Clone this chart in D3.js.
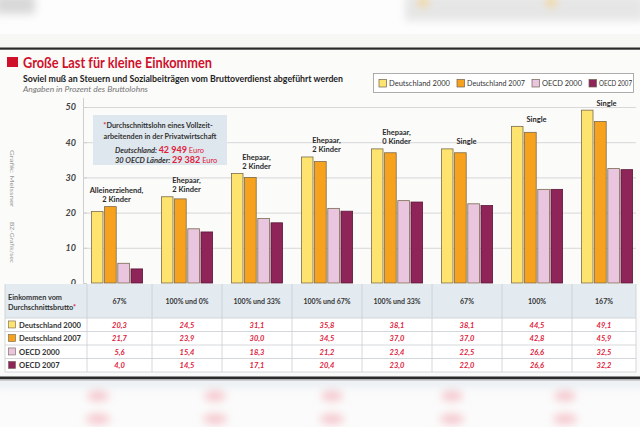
<!DOCTYPE html>
<html><head><meta charset="utf-8">
<script src="https://cdn.jsdelivr.net/npm/d3@7"></script>
<style>
html,body{margin:0;padding:0;background:#fbfbfa;}
svg{display:block;}
text{font-family:Lato,"Open Sans",sans-serif;}
</style></head>
<body>
<svg id="c" width="640" height="427"></svg>
<script>
// ---------- data ----------
const categories = ["67%","100% und 0%","100% und 33%","100% und 67%","100% und 33%","67%","100%","167%"];
const groupLabels = [["Alleinerziehend,","2 Kinder"],["Ehepaar,","2 Kinder"],["Ehepaar,","2 Kinder"],["Ehepaar,","2 Kinder"],["Ehepaar,","0 Kinder"],["Single"],["Single"],["Single"]];
const seriesNames = ["Deutschland 2000","Deutschland 2007","OECD 2000","OECD 2007"];
const deutschland2000 = [20.3,24.5,31.1,35.8,38.1,38.1,44.5,49.1];
const deutschland2007 = [21.7,23.9,30.0,34.5,37.0,37.0,42.8,45.9];
const oecd2000 = [5.6,15.4,18.3,21.2,23.4,22.5,26.6,32.5];
const oecd2007 = [4.0,14.5,17.1,20.4,23.0,22.0,26.6,32.2];
const yTicks = [0,10,20,30,40,50];
const seriesColors = ["#fee36e","#f7a21e","#e9c5df","#8e2458"];
const seriesValues = [deutschland2000,deutschland2007,oecd2000,oecd2007];

const svg = d3.select("#c");
const loc = d3.formatLocale({decimal:",",thousands:" ",grouping:[3],currency:["","€"]});
const fmt = loc.format(".1f");

// defs
const defs = svg.append("defs");
defs.append("filter").attr("id","blur").attr("x","-50%").attr("y","-50%").attr("width","200%").attr("height","200%")
  .append("feGaussianBlur").attr("stdDeviation",4);

// ---------- blurred top/bottom strips ----------
svg.append("rect").attr("x",0).attr("y",0).attr("width",640).attr("height",48).attr("fill","#fdfdfd");
const topBlur = svg.append("g").attr("filter","url(#blur)");
topBlur.append("rect").attr("x",-5).attr("y",-5).attr("width",40).attr("height",19).attr("fill","#d8d8d8");
topBlur.append("rect").attr("x",405).attr("y",-5).attr("width",240).attr("height",26).attr("fill","#e6e6e6");
topBlur.append("circle").attr("cx",423).attr("cy",2).attr("r",5).attr("fill","#f3d27a");
topBlur.append("circle").attr("cx",551).attr("cy",2).attr("r",5).attr("fill","#f3d27a");
svg.append("rect").attr("x",0).attr("y",34).attr("width",640).attr("height",14).attr("fill","#f4f4f2").attr("opacity",0.7);

svg.append("rect").attr("x",0).attr("y",379).attr("width",640).attr("height",48).attr("fill","#fbfbfb");
const botBlur = svg.append("g").attr("filter","url(#blur)");
botBlur.append("rect").attr("x",-5).attr("y",379).attr("width",650).attr("height",8).attr("fill","#e7edf2");
[98,215,332,452,565].forEach(cx=>{
  botBlur.append("ellipse").attr("cx",cx).attr("cy",396).attr("rx",11).attr("ry",5).attr("fill","#f5c4ca");
  botBlur.append("ellipse").attr("cx",cx).attr("cy",419).attr("rx",12).attr("ry",5).attr("fill","#f5c4ca");
});

// frame lines
svg.append("rect").attr("x",0).attr("y",47.5).attr("width",640).attr("height",2.2).attr("fill","#2a2a2a");
svg.append("rect").attr("x",0).attr("y",376.5).attr("width",640).attr("height",2.5).attr("fill","#2a2a2a");
svg.append("rect").attr("x",0).attr("y",379.5).attr("width",640).attr("height",0.8).attr("fill","#777");

// ---------- title ----------
svg.append("rect").attr("x",7).attr("y",57).attr("width",11).attr("height",10).attr("fill","#d0112b");
svg.append("text").attr("x",23).attr("y",68).attr("font-size",15.5).attr("font-weight",700).attr("fill","#d0112b")
  .attr("textLength",189).attr("lengthAdjust","spacingAndGlyphs").text("Große Last für kleine Einkommen");
svg.append("text").attr("x",23).attr("y",82).attr("font-size",9.5).attr("font-weight",700).attr("fill","#222")
  .attr("textLength",320).attr("lengthAdjust","spacingAndGlyphs").text("Soviel muß an Steuern und Sozialbeiträgen vom Bruttoverdienst abgeführt werden");
svg.append("text").attr("x",23).attr("y",92).attr("font-size",8).attr("font-style","italic").attr("fill","#777")
  .attr("textLength",125).attr("lengthAdjust","spacingAndGlyphs").text("Angaben in Prozent des Bruttolohns");

// ---------- legend ----------
svg.append("rect").attr("x",373.5).attr("y",73.5).attr("width",260).attr("height",19).attr("fill","#fff").attr("stroke","#9a9a9a").attr("stroke-width",0.8);
const legendTextW = [61,58,40,33];
let lx = 379;
seriesNames.forEach((n,i)=>{
  svg.append("rect").attr("x",lx).attr("y",79.5).attr("width",7.5).attr("height",7.5).attr("fill",seriesColors[i]).attr("stroke","#6e6250").attr("stroke-width",0.7);
  svg.append("text").attr("x",lx+10).attr("y",86.3).attr("font-size",7.5).attr("fill","#333")
    .attr("textLength",legendTextW[i]).attr("lengthAdjust","spacingAndGlyphs").text(n);
  lx += 10 + legendTextW[i] + 7;
});

// ---------- scales ----------
const x = d3.scaleBand().domain(d3.range(categories.length)).range([82,642]).paddingInner(0).paddingOuter(0);
const inner = d3.scaleBand().domain(d3.range(seriesNames.length)).range([9,61]).paddingInner(0.06);
const y = d3.scaleLinear().domain([0,50]).range([283,107]);

// gridlines
svg.append("g").selectAll("line").data(yTicks.filter(t=>t>0)).join("line")
  .attr("x1",83).attr("x2",636).attr("y1",d=>y(d)+0.5).attr("y2",d=>y(d)+0.5)
  .attr("stroke","#d4d4d4").attr("stroke-width",0.9);
// axis
const yAxis = d3.axisLeft(y).tickValues(yTicks).tickSize(0).tickPadding(7);
const ag = svg.append("g").attr("transform","translate(83,0)").call(yAxis);
ag.select(".domain").attr("stroke","#cfcfcf").attr("d","M0.5,98V284");
ag.selectAll("text").attr("font-size",9).attr("font-weight",700).attr("font-style","italic").attr("fill","#444").attr("font-family","Lato,sans-serif");
ag.selectAll(".tick").append("line").attr("x1",0).attr("x2",4).attr("stroke","#cfcfcf");

// vertical credit
svg.append("text").attr("transform","translate(10,150) rotate(90)").attr("font-size",5.5).attr("fill","#999")
  .attr("textLength",57).attr("lengthAdjust","spacingAndGlyphs").text("Grafik: Meissner");
svg.append("text").attr("transform","translate(10,222) rotate(90)").attr("font-size",5.5).attr("fill","#999")
  .attr("textLength",41).attr("lengthAdjust","spacingAndGlyphs").text("BZ-Grafik/sec");

// ---------- bars ----------
const bg = svg.append("g");
categories.forEach((c,i)=>{
  const g = bg.append("g").attr("transform",`translate(${x(i)},0)`);
  g.selectAll("rect").data(seriesValues.map((s,k)=>({k,v:s[i]}))).join("rect")
    .attr("x",d=>inner(d.k)+0.4).attr("width",inner.bandwidth()-0.8)
    .attr("y",d=>y(d.v)).attr("height",d=>y(0)-y(d.v))
    .attr("fill",d=>seriesColors[d.k]).attr("stroke",d=>d.k===3?"#5b1838":"#7a6b4f").attr("stroke-width",0.8);
  const maxV = d3.max(seriesValues,s=>s[i]);
  const lines = groupLabels[i];
  const t = g.append("text").attr("text-anchor","middle").attr("font-size",7.5).attr("font-weight",700).attr("fill","#2a2a2a")
    .attr("font-family","'DejaVu Sans Condensed','Liberation Sans',sans-serif");
  lines.forEach((l,j)=>{
    t.append("tspan").attr("x",x.bandwidth()/2-0.5).attr("y",y(maxV)-4.5-(lines.length-1-j)*9).text(l);
  });
});

// ---------- annotation box ----------
svg.append("rect").attr("x",93).attr("y",115).attr("width",134).attr("height",50).attr("fill","#dfe7ee");
const a1 = svg.append("text").attr("x",158).attr("y",128).attr("text-anchor","middle").attr("font-size",7.3).attr("font-weight",700).attr("fill","#333");
a1.append("tspan").attr("fill","#e0203a").text("*");
a1.append("tspan").text("Durchschnittslohn eines Vollzeit-");
svg.append("text").attr("x",160).attr("y",139).attr("text-anchor","middle").attr("font-size",7.3).attr("font-weight",700).attr("fill","#333").text("arbeitenden in der Privatwirtschaft");
const a3 = svg.append("text").attr("x",115).attr("y",152.5).attr("font-size",7.5).attr("fill","#333");
a3.append("tspan").attr("font-style","italic").attr("font-weight",700).text("Deutschland: ");
a3.append("tspan").attr("fill","#e0203a").attr("font-weight",700).attr("font-size",9).text("42 949");
a3.append("tspan").attr("fill","#e0203a").text(" Euro");
const a4 = svg.append("text").attr("x",115).attr("y",162.5).attr("font-size",7.5).attr("fill","#333");
a4.append("tspan").attr("font-style","italic").attr("font-weight",700).text("30 OECD Länder: ");
a4.append("tspan").attr("fill","#e0203a").attr("font-weight",700).attr("font-size",9).text("29 382");
a4.append("tspan").attr("fill","#e0203a").text(" Euro");

// ---------- table ----------
const colL = i => i===0 ? 87 : x(i);
const colR = i => i===categories.length-1 ? 636 : x(i)+x.bandwidth();
const headTop = 284, headBot = 318;
const rowTops = [318,331.5,345,358.5,372];
const tg = svg.append("g");
tg.append("rect").attr("x",5).attr("y",headTop).attr("width",631).attr("height",headBot-headTop).attr("fill","#e3ebf1");
tg.append("rect").attr("x",5).attr("y",headBot).attr("width",631).attr("height",rowTops[4]-headBot).attr("fill","#ffffff");
rowTops.forEach(r=>tg.append("line").attr("x1",5).attr("x2",636).attr("y1",r).attr("y2",r).attr("stroke","#c9ced3").attr("stroke-width",0.8));
const vx = [5,87].concat(categories.map((c,i)=>colR(i)));
vx.forEach(v=>tg.append("line").attr("x1",v).attr("x2",v).attr("y1",headTop).attr("y2",rowTops[4]).attr("stroke","#c9ced3").attr("stroke-width",0.8));
const hl = tg.append("text").attr("font-size",7.3).attr("font-weight",700).attr("fill","#333");
hl.append("tspan").attr("x",8).attr("y",300).text("Einkommen vom");
hl.append("tspan").attr("x",8).attr("y",309.5).text("Durchschnittsbrutto");
hl.append("tspan").attr("fill","#e0203a").text("*");
categories.forEach((c,i)=>{
  tg.append("text").attr("x",(colL(i)+colR(i))/2).attr("y",304).attr("text-anchor","middle")
    .attr("font-size",7).attr("font-weight",700).attr("fill","#333").text(c);
});
seriesNames.forEach((n,k)=>{
  const cy = (rowTops[k]+rowTops[k+1])/2;
  tg.append("rect").attr("x",8.5).attr("y",cy-3.8).attr("width",7).attr("height",7).attr("fill",seriesColors[k]).attr("stroke","#6e6250").attr("stroke-width",0.6);
  tg.append("text").attr("x",19).attr("y",cy+2.8).attr("font-size",7.6).attr("font-weight",700).attr("fill","#333").text(n);
  seriesValues[k].forEach((v,i)=>{
    tg.append("text").attr("x",(colL(i)+colR(i))/2).attr("y",cy+2.8).attr("text-anchor","middle")
      .attr("font-size",7.5).attr("font-weight",700).attr("font-style","italic").attr("fill","#e0203a").text(fmt(v));
  });
});
</script>
</body></html>
